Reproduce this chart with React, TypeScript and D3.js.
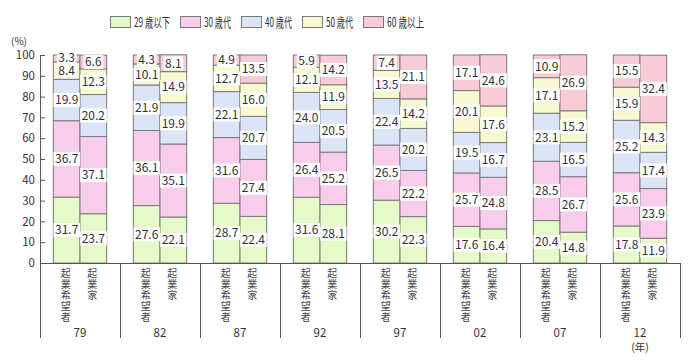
import { useEffect, useRef } from 'react';
import * as d3 from 'd3';

const years = ['79', '82', '87', '92', '97', '02', '07', '12'];
const barKinds = ['起業希望者', '起業家'];
const ageGroups = ['29 歳以下', '30 歳代', '40 歳代', '50 歳代', '60 歳以上'];
const ageColors = ['#e6f9c9', '#f8cdec', '#dbe5f7', '#f8f8d1', '#f8ccd6'];

// 起業希望者 (hopefuls)
const hopeUnder29 = [31.7, 27.6, 28.7, 31.6, 30.2, 17.6, 20.4, 17.8];
const hope30s = [36.7, 36.1, 31.6, 26.4, 26.5, 25.7, 28.5, 25.6];
const hope40s = [19.9, 21.9, 22.1, 24.0, 22.4, 19.5, 23.1, 25.2];
const hope50s = [8.4, 10.1, 12.7, 12.1, 13.5, 20.1, 17.1, 15.9];
const hope60plus = [3.3, 4.3, 4.9, 5.9, 7.4, 17.1, 10.9, 15.5];

// 起業家 (entrepreneurs)
const entUnder29 = [23.7, 22.1, 22.4, 28.1, 22.3, 16.4, 14.8, 11.9];
const ent30s = [37.1, 35.1, 27.4, 25.2, 22.2, 24.8, 26.7, 23.9];
const ent40s = [20.2, 19.9, 20.7, 20.5, 20.2, 16.7, 16.5, 17.4];
const ent50s = [12.3, 14.9, 16.0, 11.9, 14.2, 17.6, 15.2, 14.3];
const ent60plus = [6.6, 8.1, 13.5, 14.2, 21.1, 24.6, 26.9, 32.4];

const yTicks = [0, 10, 20, 30, 40, 50, 60, 70, 80, 90, 100];

const FONT = '"Noto Sans CJK JP", "Noto Sans", sans-serif';

export default function App() {
    const svgRef = useRef<SVGSVGElement>(null);

    useEffect(() => {
        if (!svgRef.current) return;
        const svg = d3.select(svgRef.current);
        svg.selectAll('*').remove();

        const width = 700;
        const height = 361;
        svg.attr('viewBox', `0 0 ${width} ${height}`);

        const x = d3.scaleBand().domain(years).range([40, 680]).padding(0);
        const xInner = d3.scaleBand().domain(barKinds).range([0, x.bandwidth()])
            .paddingInner(0).paddingOuter(0.5);
        const y = d3.scaleLinear().domain([0, 100]).range([263, 55]);

        const hope = [hopeUnder29, hope30s, hope40s, hope50s, hope60plus];
        const ent = [entUnder29, ent30s, ent40s, ent50s, ent60plus];

        const rows: { year: string; kind: string; vals: number[] }[] = [];
        years.forEach((yr, i) => {
            rows.push({ year: yr, kind: barKinds[0], vals: hope.map(s => s[i]) });
            rows.push({ year: yr, kind: barKinds[1], vals: ent.map(s => s[i]) });
        });

        const segs: { x: number; y0: number; y1: number; v: number; k: number; ly: number }[] = [];
        rows.forEach(r => {
            let acc = 0;
            let prevLy = Infinity;
            r.vals.forEach((v, k) => {
                // keep labels of thin segments from sitting on the one below
                const ly = Math.min(y(acc + v / 2), prevLy - 13);
                prevLy = ly;
                segs.push({ x: (x(r.year) || 0) + (xInner(r.kind) || 0), y0: acc, y1: acc + v, v, k, ly });
                acc += v;
            });
        });

        // bars
        svg.append('g').selectAll('rect')
            .data(segs)
            .enter()
            .append('rect')
            .attr('x', d => d.x)
            .attr('y', d => y(d.y1))
            .attr('width', xInner.bandwidth())
            .attr('height', d => y(d.y0) - y(d.y1))
            .attr('fill', d => ageColors[d.k])
            .attr('stroke', '#7a7a7a')
            .attr('stroke-width', 1);

        // value labels on white boxes
        const lab = svg.append('g').selectAll('g')
            .data(segs)
            .enter()
            .append('g')
            .attr('transform', d => `translate(${d.x + xInner.bandwidth() / 2},${d.ly})`);
        lab.append('text')
            .attr('text-anchor', 'middle')
            .attr('dy', '0.36em')
            .attr('font-family', FONT)
            .attr('font-size', 12)
            .attr('fill', '#333')
            .text(d => d.v.toFixed(1));
        lab.each(function () {
            const g = d3.select(this);
            const t = g.select('text').node() as SVGTextElement;
            const bb = t.getBBox();
            g.insert('rect', 'text')
                .attr('x', bb.x - 1.5)
                .attr('y', -7)
                .attr('width', bb.width + 3)
                .attr('height', 14)
                .attr('fill', '#fff');
        });

        // axis lines, group separators, ticks
        const axis = svg.append('g').attr('stroke', '#555').attr('stroke-width', 1);
        axis.append('line').attr('x1', 40.5).attr('x2', 40.5).attr('y1', y(100)).attr('y2', 338);
        axis.append('line').attr('x1', 40).attr('x2', 680).attr('y1', y(0) + 0.5).attr('y2', y(0) + 0.5);
        axis.selectAll('.sep')
            .data(years)
            .enter()
            .append('line')
            .attr('x1', d => (x(d) || 0) + x.bandwidth() + 0.5)
            .attr('x2', d => (x(d) || 0) + x.bandwidth() + 0.5)
            .attr('y1', y(0))
            .attr('y2', 338);
        axis.selectAll('.tick')
            .data(yTicks)
            .enter()
            .append('line')
            .attr('x1', 40.5)
            .attr('x2', 45)
            .attr('y1', d => y(d) + 0.5)
            .attr('y2', d => y(d) + 0.5);

        // y tick labels
        svg.append('g').selectAll('text')
            .data(yTicks)
            .enter()
            .append('text')
            .attr('x', 35)
            .attr('y', d => y(d))
            .attr('dy', '0.36em')
            .attr('text-anchor', 'end')
            .attr('font-family', FONT)
            .attr('font-size', 11.5)
            .attr('fill', '#333')
            .text(d => d);

        svg.append('text')
            .attr('x', 19).attr('y', 41).attr('dy', '0.36em')
            .attr('text-anchor', 'middle')
            .attr('font-family', FONT).attr('font-size', 10).attr('fill', '#333')
            .text('(%)');

        // vertical category labels
        const cat = svg.append('g');
        years.forEach(yr => {
            barKinds.forEach(kind => {
                const cx = (x(yr) || 0) + (xInner(kind) || 0) + xInner.bandwidth() / 2 - 1;
                cat.append('text')
                    .attr('x', cx)
                    .attr('y', 268)
                    .attr('writing-mode', 'vertical-rl')
                    .style('text-orientation', 'upright')
                    .attr('letter-spacing', 1)
                    .attr('font-family', FONT)
                    .attr('font-size', 10)
                    .attr('fill', '#444')
                    .text(kind);
            });
        });

        // year labels
        svg.append('g').selectAll('text')
            .data(years)
            .enter()
            .append('text')
            .attr('x', d => (x(d) || 0) + x.bandwidth() / 2)
            .attr('y', 333)
            .attr('dy', '0.36em')
            .attr('text-anchor', 'middle')
            .attr('font-family', FONT)
            .attr('font-size', 11.5)
            .attr('fill', '#333')
            .text(d => d);

        svg.append('text')
            .attr('x', (x('12') || 0) + x.bandwidth() / 2).attr('y', 347).attr('dy', '0.36em')
            .attr('text-anchor', 'middle')
            .attr('font-family', FONT).attr('font-size', 10.5).attr('fill', '#333')
            .text('(年)');

        // legend
        const legendX = [110, 180, 241, 302, 363];
        const legendW = [36, 27, 27, 27, 37];
        const leg = svg.append('g').selectAll('g')
            .data(ageGroups)
            .enter()
            .append('g')
            .attr('transform', (_, i) => `translate(${legendX[i]},16)`);
        leg.append('rect')
            .attr('x', 0.5).attr('y', 0.5)
            .attr('width', 20).attr('height', 11)
            .attr('fill', (_, i) => ageColors[i])
            .attr('stroke', '#7a7a7a');
        leg.append('text')
            .attr('x', 24).attr('y', 6).attr('dy', '0.36em')
            .attr('font-family', FONT).attr('font-size', 13).attr('fill', '#333')
            .attr('textLength', (_, i) => legendW[i])
            .attr('lengthAdjust', 'spacingAndGlyphs')
            .text(d => d);
    }, []);

    return (
        <svg
            ref={svgRef}
            width={700}
            height={361}
            style={{ position: 'absolute', left: 0, top: 0, background: '#fff' }}
        />
    );
}
